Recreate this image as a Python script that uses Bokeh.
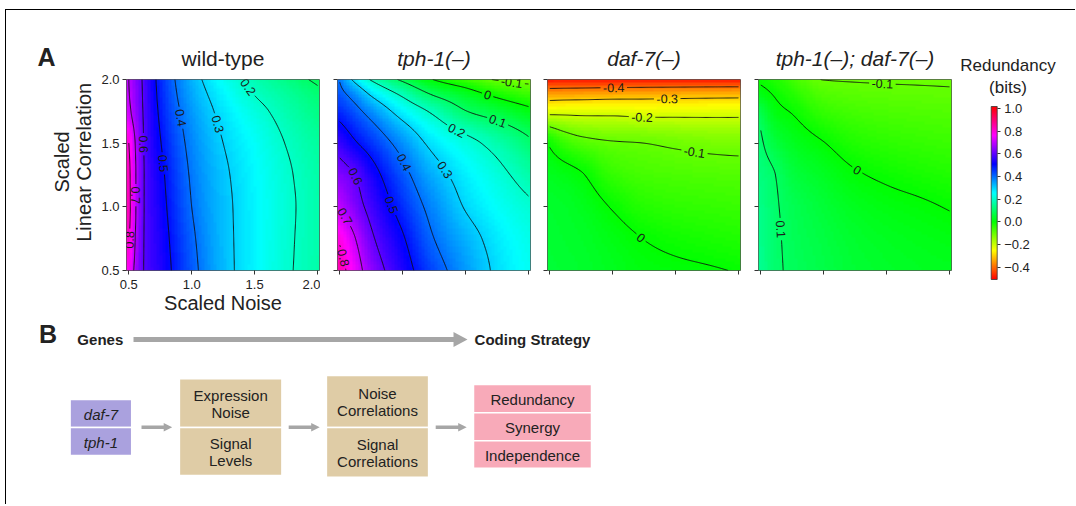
import math
import colorsys
import numpy as np
from contourpy import contour_generator
from bokeh.plotting import figure
from bokeh.models import (Range1d, LinearColorMapper, ColorBar, FixedTicker,
                          PrintfTickFormatter, CustomJSTickFormatter)
from bokeh.layouts import row, column
from bokeh.core.properties import value
from bokeh.embed import file_html
from bokeh.resources import INLINE

FONT = "Liberation Sans"

# ---------------- data ----------------
GRID_X = [0.5, 0.625, 0.75, 1.0, 1.25, 1.5, 1.75, 2.0]          # scaled noise
GRID_Y = [0.5, 0.75, 1.0, 1.25, 1.5, 1.75, 1.875, 2.0]          # scaled linear correlation

# redundancy (bits); one row per GRID_Y value (bottom to top)
WILD_TYPE = [
    [0.770, 0.595, 0.542, 0.423, 0.325, 0.262, 0.210, 0.170],
    [0.810, 0.596, 0.536, 0.413, 0.322, 0.263, 0.212, 0.172],
    [0.830, 0.597, 0.528, 0.400, 0.319, 0.263, 0.214, 0.172],
    [0.825, 0.597, 0.519, 0.391, 0.313, 0.259, 0.210, 0.168],
    [0.800, 0.593, 0.504, 0.378, 0.300, 0.249, 0.198, 0.158],
    [0.720, 0.588, 0.488, 0.359, 0.280, 0.223, 0.175, 0.133],
    [0.705, 0.585, 0.480, 0.346, 0.264, 0.200, 0.158, 0.117],
    [0.700, 0.582, 0.474, 0.333, 0.243, 0.179, 0.133, 0.087],
]
TPH1 = [
    [0.840, 0.741, 0.655, 0.538, 0.436, 0.355, 0.288, 0.245],
    [0.787, 0.700, 0.614, 0.508, 0.400, 0.331, 0.275, 0.235],
    [0.700, 0.634, 0.574, 0.466, 0.370, 0.295, 0.249, 0.212],
    [0.639, 0.598, 0.535, 0.425, 0.331, 0.269, 0.221, 0.170],
    [0.563, 0.507, 0.462, 0.367, 0.277, 0.225, 0.174, 0.116],
    [0.470, 0.423, 0.369, 0.265, 0.184, 0.103, 0.062, 0.019],
    [0.428, 0.368, 0.296, 0.191, 0.098, 0.042, -0.012, -0.050],
    [0.395, 0.274, 0.192, 0.084, -0.003, -0.057, -0.105, -0.120],
]
DAF7 = [
    [0.055, 0.050, 0.045, 0.030, 0.015, 0.010, 0.005, -0.003],
    [0.050, 0.045, 0.040, 0.020, -0.001, -0.014, -0.022, -0.029],
    [0.045, 0.040, 0.030, -0.004, -0.034, -0.044, -0.049, -0.054],
    [0.030, 0.020, 0.005, -0.049, -0.067, -0.073, -0.077, -0.080],
    [-0.008, -0.053, -0.076, -0.095, -0.100, -0.109, -0.116, -0.119],
    [-0.225, -0.223, -0.224, -0.223, -0.230, -0.228, -0.227, -0.226],
    [-0.339, -0.336, -0.334, -0.329, -0.326, -0.323, -0.320, -0.318],
    [-0.490, -0.490, -0.490, -0.490, -0.490, -0.490, -0.490, -0.490],
]
TPH1_DAF7 = [
    [0.145, 0.108, 0.092, 0.072, 0.052, 0.042, 0.035, 0.030],
    [0.140, 0.107, 0.088, 0.066, 0.045, 0.033, 0.025, 0.018],
    [0.135, 0.104, 0.083, 0.055, 0.030, 0.017, 0.008, -0.003],
    [0.125, 0.098, 0.065, 0.035, 0.006, -0.009, -0.020, -0.029],
    [0.110, 0.060, 0.035, 0.002, -0.029, -0.041, -0.049, -0.055],
    [0.075, 0.015, -0.004, -0.049, -0.066, -0.073, -0.077, -0.080],
    [0.024, -0.006, -0.030, -0.075, -0.085, -0.089, -0.091, -0.093],
    [-0.010, -0.031, -0.060, -0.101, -0.103, -0.104, -0.105, -0.106],
]
PANELS = [WILD_TYPE, TPH1, DAF7, TPH1_DAF7]
PANEL_TITLES = ["wild-type", "tph-1(\u2013)", "daf-7(\u2013)", "tph-1(\u2013); daf-7(\u2013)"]
PANEL_ITALIC = [False, True, True, True]
AXIS_TICKS = [0.5, 1.0, 1.5, 2.0]
CONTOUR_LEVELS = [-0.4, -0.3, -0.2, -0.1, 0.0, 0.1, 0.2, 0.3, 0.4, 0.5, 0.6, 0.7, 0.8]
CBAR_TICKS = [-0.4, -0.2, 0.0, 0.2, 0.4, 0.6, 0.8, 1.0]
CBAR_LOW, CBAR_HIGH = -0.51, 1.02
X_LABEL = "Scaled Noise"
Y_LABEL = ["Scaled", "Linear Correlation"]
CBAR_TITLE = ["Redundancy", "(bits)"]

GENES = ["daf-7", "tph-1"]
STAGE2 = [["Expression", "Noise"], ["Signal", "Levels"]]
STAGE3 = [["Noise", "Correlations"], ["Signal", "Correlations"]]
STRATEGIES = ["Redundancy", "Synergy", "Independence"]
FLOW_START, FLOW_END = "Genes", "Coding Strategy"

# ---------------- styling / layout ----------------
LABEL_ANCHORS = [
    [(0.8, 0.553, 0.737), (0.7, 0.553, 1.093), (0.6, 0.619, 1.489), (0.5, 0.765, 1.344),
     (0.4, 0.910, 1.700), (0.3, 1.188, 1.647), (0.2, 1.400, 1.910)],
    [(0.8, 0.521, 0.596), (0.7, 0.587, 0.950), (0.6, 0.626, 1.239), (0.5, 0.915, 1.015),
     (0.4, 1.020, 1.357), (0.3, 1.323, 1.278), (0.2, 1.406, 1.554), (0.1, 1.743, 1.645),
     (0.0, 1.664, 1.837), (-0.1, 1.861, 1.916)],
    [(-0.4, 1.012, 1.890), (-0.3, 1.433, 1.798), (-0.2, 1.236, 1.654), (-0.1, 1.643, 1.404),
     (0.0, 1.223, 0.761)],
    [(-0.1, 1.464, 1.883), (0.0, 1.266, 1.284), (0.1, 0.672, 0.828)],
]

ORG_X, ORG_Y = 6, 10            # page position of the layout content (inside the frame lines)
HEADER_BOTTOM = 72
ROW_BOTTOM = 320
PAGE_RIGHT = 1075
B_BOTTOM = 504

FW, FH = 193, 191
XS, XE = 0.4817, 2.0159
YS, YE = 0.5, 2.0
KX, KY = FW / (XE - XS), FH / (YE - YS)
FRAME_TOP = 79
PANEL_LEFTS = [126, 337, 547, 758]
FIG_EDGES = [95, 320, 531, 741, 952]
LABEL_SIZE = 12.5

palette = []
for i in range(256):
    r, g, b = colorsys.hsv_to_rgb(i / 255.0, 1.0, 1.0)
    palette.append("#%02x%02x%02x" % (int(round(r * 255)), int(round(g * 255)), int(round(b * 255))))
mapper = LinearColorMapper(palette=palette, low=CBAR_LOW, high=CBAR_HIGH)


def pchip_1d(xk, yk, xn):
    xk = np.asarray(xk, float)
    yk = np.asarray(yk, float)
    n = len(xk)
    h = np.diff(xk)
    d = np.diff(yk) / h
    m = np.zeros(n)
    for k in range(1, n - 1):
        if d[k - 1] * d[k] > 0:
            w1 = 2 * h[k] + h[k - 1]
            w2 = h[k] + 2 * h[k - 1]
            m[k] = (w1 + w2) / (w1 / d[k - 1] + w2 / d[k])

    def end(h0, h1, d0, d1):
        mm = ((2 * h0 + h1) * d0 - h0 * d1) / (h0 + h1)
        if np.sign(mm) != np.sign(d0):
            return 0.0
        if np.sign(d0) != np.sign(d1) and abs(mm) > 3 * abs(d0):
            return 3 * d0
        return mm

    m[0] = end(h[0], h[1], d[0], d[1])
    m[-1] = end(h[-1], h[-2], d[-1], d[-2])
    xn = np.clip(np.asarray(xn, float), xk[0], xk[-1])
    i = np.clip(np.searchsorted(xk, xn, side="right") - 1, 0, n - 2)
    t = (xn - xk[i]) / h[i]
    h00 = 2 * t ** 3 - 3 * t ** 2 + 1
    h10 = t ** 3 - 2 * t ** 2 + t
    h01 = -2 * t ** 3 + 3 * t ** 2
    h11 = t ** 3 - t ** 2
    return h00 * yk[i] + h10 * h[i] * m[i] + h01 * yk[i + 1] + h11 * h[i] * m[i + 1]


def field(grid, xs_new, ys_new):
    G = np.asarray(grid, float)
    R = np.array([pchip_1d(GRID_X, G[j], xs_new) for j in range(len(GRID_Y))])
    return np.array([pchip_1d(GRID_Y, R[:, i], ys_new) for i in range(len(xs_new))]).T


def fmt_level(lv):
    return "0" if abs(lv) < 1e-9 else "%.1f" % lv


CHAR_W = {".": 0.278, "-": 0.333}


def text_width(txt, size):
    return sum(CHAR_W.get(c, 0.556) for c in txt) * size


def label_contours(lines_by_level, anchors):
    out = []
    for level, ax, ay in anchors:
        cand = lines_by_level.get(round(level, 2), [])
        best = None
        for li, L in enumerate(cand):
            if len(L) < 2:
                continue
            dist = np.hypot((L[:, 0] - ax) * KX, (L[:, 1] - ay) * KY)
            j = int(np.argmin(dist))
            if best is None or dist[j] < best[0]:
                best = (dist[j], li, j)
        if best is None:
            continue
        _, li, j = best
        L = cand[li]
        P = np.column_stack([L[:, 0] * KX, L[:, 1] * KY])
        s = np.concatenate([[0.0], np.cumsum(np.hypot(np.diff(P[:, 0]), np.diff(P[:, 1])))])
        s0 = s[j]

        def at(t):
            return float(np.interp(t, s, L[:, 0])), float(np.interp(t, s, L[:, 1]))

        txt = fmt_level(level)
        half = 0.5 * text_width(txt, LABEL_SIZE) + 2.5
        xa, ya = at(max(s0 - 7, 0))
        xb, yb = at(min(s0 + 7, s[-1]))
        ang = math.atan2((yb - ya) * KY, (xb - xa) * KX)
        if ang >= math.pi / 2 - 1e-6:
            ang -= math.pi
        if ang < -math.pi / 2:
            ang += math.pi
        lx, ly = at(s0)
        out.append((lx, ly, txt, ang))
        pieces = []
        a, b = s0 - half, s0 + half
        if a > 0:
            pieces.append(np.vstack([L[s < a], [list(at(a))]]))
        if b < s[-1]:
            pieces.append(np.vstack([[list(at(b))], L[s > b]]))
        cand[li:li + 1] = pieces
    return out


def canvas(x0, x1, y0, y1):
    """A plain figure whose frame is the page rectangle [x0,x1]x[y0,y1] (page pixel coords)."""
    c = figure(width=int(x1 - x0), height=int(y1 - y0), x_range=Range1d(x0, x1),
               y_range=Range1d(y1, y0), min_border=0, x_axis_type=None, y_axis_type=None,
               output_backend="svg", toolbar_location=None)
    c.xgrid.visible = False
    c.ygrid.visible = False
    c.outline_line_color = None
    return c


def put_text(c, xs, ys, texts, size, style="normal", angle=0.0):
    c.text(x=xs, y=ys, text=texts, angle=angle, text_align="center", text_baseline="middle",
           text_font=value(FONT), text_font_size=size, text_font_style=style,
           text_color="#222222")


fine_x = np.linspace(0.5, 2.0, 181)
fine_y = np.linspace(0.5, 2.0, 181)
NCELL = 64
cell_x = XS + (np.arange(NCELL) + 0.5) * (XE - XS) / NCELL
cell_y = YS + (np.arange(NCELL) + 0.5) * (YE - YS) / NCELL

# ---------------- header (titles, "A") ----------------
header = canvas(ORG_X, FIG_EDGES[-1], ORG_Y, HEADER_BOTTOM)
for k in range(4):
    put_text(header, [PANEL_LEFTS[k] + FW / 2], [57.5], [PANEL_TITLES[k]], "21px",
             "italic" if PANEL_ITALIC[k] else "normal")
put_text(header, [46], [56], ["A"], "25px", "bold")

# ---------------- y-label gutter ----------------
gutter = canvas(ORG_X, FIG_EDGES[0], HEADER_BOTTOM, ROW_BOTTOM)
put_text(gutter, [61.7], [179.0], [Y_LABEL[0]], "20px", angle=math.pi / 2)
put_text(gutter, [83.7], [179.5], [Y_LABEL[1]], "20px", angle=math.pi / 2)

# ---------------- heatmap panels ----------------
figs = []
for k, grid in enumerate(PANELS):
    width = FIG_EDGES[k + 1] - FIG_EDGES[k]
    bl = PANEL_LEFTS[k] - FIG_EDGES[k]
    br = width - bl - FW
    height = ROW_BOTTOM - HEADER_BOTTOM
    bt = FRAME_TOP - HEADER_BOTTOM
    p = figure(width=width, height=height, x_range=Range1d(XS, XE), y_range=Range1d(YS, YE),
               min_border_left=bl, min_border_right=br, min_border_top=bt,
               min_border_bottom=height - bt - FH,
               output_backend="svg", toolbar_location=None)
    p.xgrid.visible = False
    p.ygrid.visible = False
    p.outline_line_color = "#555555"
    p.outline_line_width = 1

    img = field(grid, cell_x, cell_y)
    p.image(image=[img], x=XS, y=YS, dw=XE - XS, dh=YE - YS, color_mapper=mapper)

    Z = field(grid, fine_x, fine_y)
    cg = contour_generator(x=fine_x, y=fine_y, z=Z)
    lines_by_level = {}
    for lv in CONTOUR_LEVELS:
        lines_by_level[round(lv, 2)] = [np.asarray(L) for L in cg.lines(lv) if len(L) > 1]
    labels = label_contours(lines_by_level, LABEL_ANCHORS[k])
    mx, my = [], []
    for lv in CONTOUR_LEVELS:
        for L in lines_by_level[round(lv, 2)]:
            if len(L) > 1:
                mx.append(L[:, 0].tolist())
                my.append(L[:, 1].tolist())
    p.multi_line(xs=mx, ys=my, line_color="#111111", line_width=0.9)
    if labels:
        p.text(x=[t[0] for t in labels], y=[t[1] for t in labels], text=[t[2] for t in labels],
               angle=[t[3] for t in labels], text_align="center", text_baseline="middle",
               text_font=value(FONT), text_font_size="%.1fpx" % LABEL_SIZE, text_color="#1a1a1a")

    for ax_ in (p.xaxis, p.yaxis):
        ax_.ticker = FixedTicker(ticks=AXIS_TICKS)
        ax_.axis_line_color = None
        ax_.major_tick_in = 0
        ax_.major_tick_out = 4
        ax_.minor_tick_line_color = None
        ax_.major_tick_line_color = "#333333"
        ax_.major_label_text_font = FONT
        ax_.major_label_text_color = "#222222"
    if k == 0:
        for ax_ in (p.xaxis, p.yaxis):
            ax_.formatter = PrintfTickFormatter(format="%.1f")
            ax_.major_label_text_font_size = "13px"
        p.xaxis.major_label_standoff = 5
        p.yaxis.major_label_standoff = 3
        p.xaxis.axis_label = X_LABEL
        p.xaxis.axis_label_text_font = FONT
        p.xaxis.axis_label_text_font_size = "20px"
        p.xaxis.axis_label_text_font_style = "normal"
        p.xaxis.axis_label_text_color = "#222222"
        p.xaxis.axis_label_standoff = 0
    else:
        for ax_ in (p.xaxis, p.yaxis):
            ax_.formatter = CustomJSTickFormatter(code="return '';")
            ax_.major_label_text_font_size = "0px"
            ax_.major_label_standoff = 0
    figs.append(p)

# ---------------- colour bar ----------------
pc = canvas(FIG_EDGES[-1], PAGE_RIGHT, ORG_Y, ROW_BOTTOM)
cb = ColorBar(color_mapper=mapper, ticker=FixedTicker(ticks=CBAR_TICKS),
              formatter=CustomJSTickFormatter(code="return (tick < -1e-9 ? '\u2212' : '') + Math.abs(tick).toFixed(1);"),
              width=6, height=173, padding=0,
              location=(990.7 - FIG_EDGES[-1], ROW_BOTTOM - 279),
              major_label_text_font=FONT, major_label_text_font_size="13px",
              major_label_text_color="#222222", label_standoff=4,
              major_tick_in=0, major_tick_out=3, major_tick_line_color="#333333",
              minor_tick_line_color=None, bar_line_color="#333333", bar_line_width=0.8,
              background_fill_alpha=0, border_line_color=None)
pc.add_layout(cb)
put_text(pc, [1007.5, 1007.5], [65, 86.7], CBAR_TITLE, "17px")

# ---------------- panel B ----------------
pb = canvas(ORG_X, PAGE_RIGHT, ROW_BOTTOM, B_BOTTOM)
COLS = [(69.6, 131.2), (178.9, 281.4), (325.9, 428.1), (473.0, 591.0)]
ROWS = [[399.0, 427.0, 455.0], [378.3, 427.0, 475.0], [375.0, 427.0, 476.7],
        [384.0, 412.3, 440.3, 467.7]]
BOX_COLORS = ["#aaa1de", "#dfcca6", "#dfcca6", "#f8aab9"]
BOX_TEXT = [[[g] for g in GENES], STAGE2, STAGE3, [[s] for s in STRATEGIES]]
BOX_ITALIC = [True, False, False, False]
LINE_STEP = 16.7

ql, qr, qt, qb, qc = [], [], [], [], []
tx, ty, tt, ts = [], [], [], []
for c, (x0, x1) in enumerate(COLS):
    rws = ROWS[c]
    for k in range(len(rws) - 1):
        ql.append(x0); qr.append(x1); qt.append(rws[k]); qb.append(rws[k + 1]); qc.append(BOX_COLORS[c])
        lines = BOX_TEXT[c][k]
        yc = (rws[k] + rws[k + 1]) / 2 + 0.5
        for li, line in enumerate(lines):
            tx.append((x0 + x1) / 2)
            ty.append(yc + (li - (len(lines) - 1) / 2) * LINE_STEP)
            tt.append(line)
            ts.append("italic" if BOX_ITALIC[c] else "normal")
pb.quad(left=ql, right=qr, top=qt, bottom=qb, fill_color=qc, line_color="white", line_width=1.5)
pb.text(x=tx, y=ty, text=tt, text_font_style=ts, text_align="center", text_baseline="middle",
        text_font=value(FONT), text_font_size="15px", text_color="#222222")

ARROWS = [(133, 467, 339, 2.4, 7.5, 14), (141, 171.7, 426.7, 1.8, 4.3, 8.5),
          (288.2, 319.2, 426.7, 1.8, 4.3, 8.5), (435.2, 466.2, 426.7, 1.8, 4.3, 8.5)]
axs, ays = [], []
for x0, x1, yc, sh, hh, hl in ARROWS:
    xb_ = x1 - hl
    axs.append([x0, xb_, xb_, x1, xb_, xb_, x0])
    ays.append([yc - sh, yc - sh, yc - hh, yc, yc + hh, yc + sh, yc + sh])
pb.patches(xs=axs, ys=ays, fill_color="#a6a6a6", line_color=None)

put_text(pb, [99.8, 532.0], [338.5, 338.5], [FLOW_START, FLOW_END], "15px", "bold")
put_text(pb, [47.5], [333.5], ["B"], "25px", "bold")

layout = column(
    row(column(header, row(gutter, *figs)), pc),
    pb,
    styles={"border-top": "1px solid #000000", "border-left": "1px solid #000000",
            "margin-top": "9px", "margin-left": "5px"},
)

open("out.html", "w").write(file_html(layout, INLINE))
